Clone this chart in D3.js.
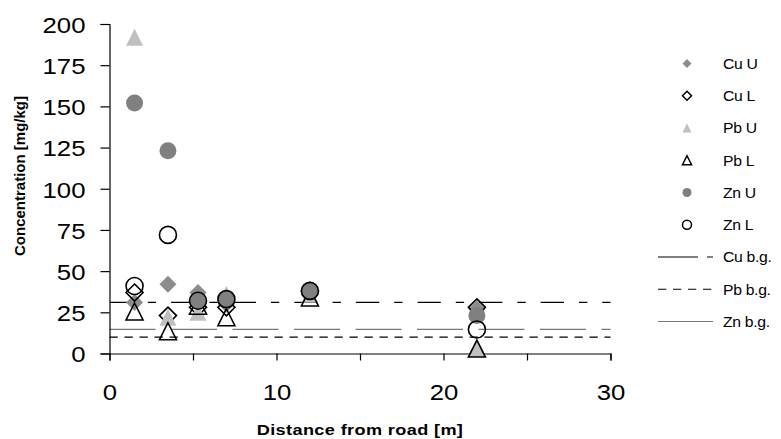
<!DOCTYPE html>
<html>
<head>
<meta charset="utf-8">
<script src="https://cdn.jsdelivr.net/npm/d3@7"></script>
<style>
  body { margin: 0; background: #fff; }
  svg { font-family: "Liberation Sans", Arial, sans-serif; }
</style>
</head>
<body>
<div id="chart"></div>
<script>
// distances from the road [m]
var distances = [1.5, 3.5, 5.3, 7, 12, 22];

// concentrations [mg/kg], upper (U) and lower (L) layer
var cuU = [31, 42, 37, 30, 38, 27];
var cuL = [37, 23, 28, 28, 38, 28];
var pbU = [192, 22, 25, 36, 36, 3];
var pbL = [25.5, 13.5, 29, 22, 34, 3];
var znU = [152, 123, 32, 33, 38, 23];
var znL = [41, 72, 32, 33, 38, 14.6];

// background levels
var cuBg = 31, pbBg = 10, znBg = 14.6;

var xTicks = [0, 5, 10, 15, 20, 25, 30];
var yTicks = [0, 25, 50, 75, 100, 125, 150, 175, 200];

(function() {
  var svg = d3.select("#chart").append("svg")
    .attr("width", 781)
    .attr("height", 439);

  var x = d3.scaleLinear().domain([0, 30]).range([109.5, 610.5]);
  var y = d3.scaleLinear().domain([0, 200]).range([353.5, 24]);
  var stretch = 1.12; // text in the picture is a bit wide

  // excel style marker shapes, square bounding box
  var diamond = {
    draw: function(ctx, size) {
      var r = Math.sqrt(size) / 2;
      ctx.moveTo(0, -r); ctx.lineTo(r, 0); ctx.lineTo(0, r); ctx.lineTo(-r, 0); ctx.closePath();
    }
  };
  var triangle = {
    draw: function(ctx, size) {
      var r = Math.sqrt(size) / 2;
      ctx.moveTo(0, -r); ctx.lineTo(r, r); ctx.lineTo(-r, r); ctx.closePath();
    }
  };
  var circle = {
    draw: function(ctx, size) {
      var r = Math.sqrt(size) / 2;
      ctx.moveTo(r, 0); ctx.arc(0, 0, r, 0, 2 * Math.PI);
    }
  };

  var series = [
    {name: "Cu U", values: cuU, type: diamond, fill: "#8c8c8c", stroke: "none"},
    {name: "Cu L", values: cuL, type: diamond, fill: "none", stroke: "#000"},
    {name: "Pb U", values: pbU, type: triangle, fill: "#c0c0c0", stroke: "none"},
    {name: "Pb L", values: pbL, type: triangle, fill: "none", stroke: "#000"},
    {name: "Zn U", values: znU, type: circle, fill: "#808080", stroke: "none"},
    {name: "Zn L", values: znL, type: circle, fill: "none", stroke: "#000"}
  ];

  var bgLines = [
    {name: "Cu b.g.", value: cuBg, stroke: "#000", dash: "23.3,15,8.3,15", legendDash: "40,9,7"},
    {name: "Pb b.g.", value: pbBg, stroke: "#000", dash: "8.3,6.7", legendDash: "8.3,6.7"},
    {name: "Zn b.g.", value: znBg, stroke: "#777", dash: "46,15.5", legendDash: null}
  ];

  // background lines
  svg.selectAll(".bg")
    .data(bgLines)
    .join("line")
    .attr("class", "bg")
    .attr("x1", x(0)).attr("x2", x(30))
    .attr("y1", d => y(d.value)).attr("y2", d => y(d.value))
    .attr("stroke", d => d.stroke)
    .attr("stroke-width", 1.2)
    .attr("stroke-dasharray", d => d.dash);

  // axes
  var yAxis = svg.append("g")
    .attr("transform", `translate(${x(0)},0)`)
    .call(d3.axisLeft(y).tickValues(yTicks).tickSize(9).tickPadding(15));
  var xAxis = svg.append("g")
    .attr("transform", `translate(0,${y(0)})`)
    .call(d3.axisBottom(x).tickValues(xTicks).tickSize(7).tickPadding(23)
      .tickFormat(d => d % 10 === 0 ? d : ""));

  [yAxis, xAxis].forEach(function(a) {
    a.select(".domain").attr("stroke", "#000").attr("stroke-width", 1.2);
    a.selectAll(".tick line").attr("stroke", "#000").attr("stroke-width", 1.2);
    a.selectAll("text").attr("font-size", 23).attr("fill", "#000")
      .attr("font-family", "Liberation Sans, Arial, sans-serif")
      .attr("transform", `scale(${stretch},1)`);
  });
  yAxis.selectAll("text").attr("dy", "0.36em").attr("x", -24 / stretch);

  // markers
  var sym = d3.symbol().size(17 * 17);
  series.forEach(function(s) {
    svg.append("g").selectAll("path")
      .data(s.values)
      .join("path")
      .attr("transform", (d, i) => `translate(${x(distances[i])},${y(d)})`)
      .attr("d", sym.type(s.type)())
      .attr("fill", s.fill)
      .attr("stroke", s.stroke)
      .attr("stroke-width", 1.6);
  });

  // axis titles
  svg.append("text")
    .attr("transform", "translate(25,176) rotate(-90)")
    .attr("text-anchor", "middle")
    .attr("font-size", 15)
    .attr("font-weight", "bold")
    .text("Concentration [mg/kg]");
  svg.append("text")
    .attr("transform", "translate(360,435) scale(1.25,1)")
    .attr("text-anchor", "middle")
    .attr("font-size", 14.5)
    .attr("font-weight", "bold")
    .attr("letter-spacing", 0.3)
    .text("Distance from road [m]");

  // legend
  var rowY = d3.scaleLinear().domain([0, 8]).range([63.5, 321.5]);
  var legSym = d3.symbol().size(9 * 9);
  var leg = svg.append("g");
  series.forEach(function(s, i) {
    leg.append("path")
      .attr("transform", `translate(687,${rowY(i)})`)
      .attr("d", legSym.type(s.type)())
      .attr("fill", s.fill)
      .attr("stroke", s.stroke)
      .attr("stroke-width", 1.5);
    leg.append("text")
      .attr("transform", `translate(723,${rowY(i)}) scale(1.05,1)`)
      .attr("dy", "0.36em")
      .attr("font-size", 15).attr("letter-spacing", -0.3)
      .text(s.name);
  });
  bgLines.forEach(function(b, j) {
    var i = j + 6;
    leg.append("line")
      .attr("x1", 658).attr("x2", 713)
      .attr("y1", rowY(i)).attr("y2", rowY(i))
      .attr("stroke", b.stroke)
      .attr("stroke-width", 1.2)
      .attr("stroke-dasharray", b.legendDash);
    leg.append("text")
      .attr("transform", `translate(723,${rowY(i)}) scale(1.05,1)`)
      .attr("dy", "0.36em")
      .attr("font-size", 15).attr("letter-spacing", -0.3)
      .text(b.name);
  });
})();
</script>
</body>
</html>
